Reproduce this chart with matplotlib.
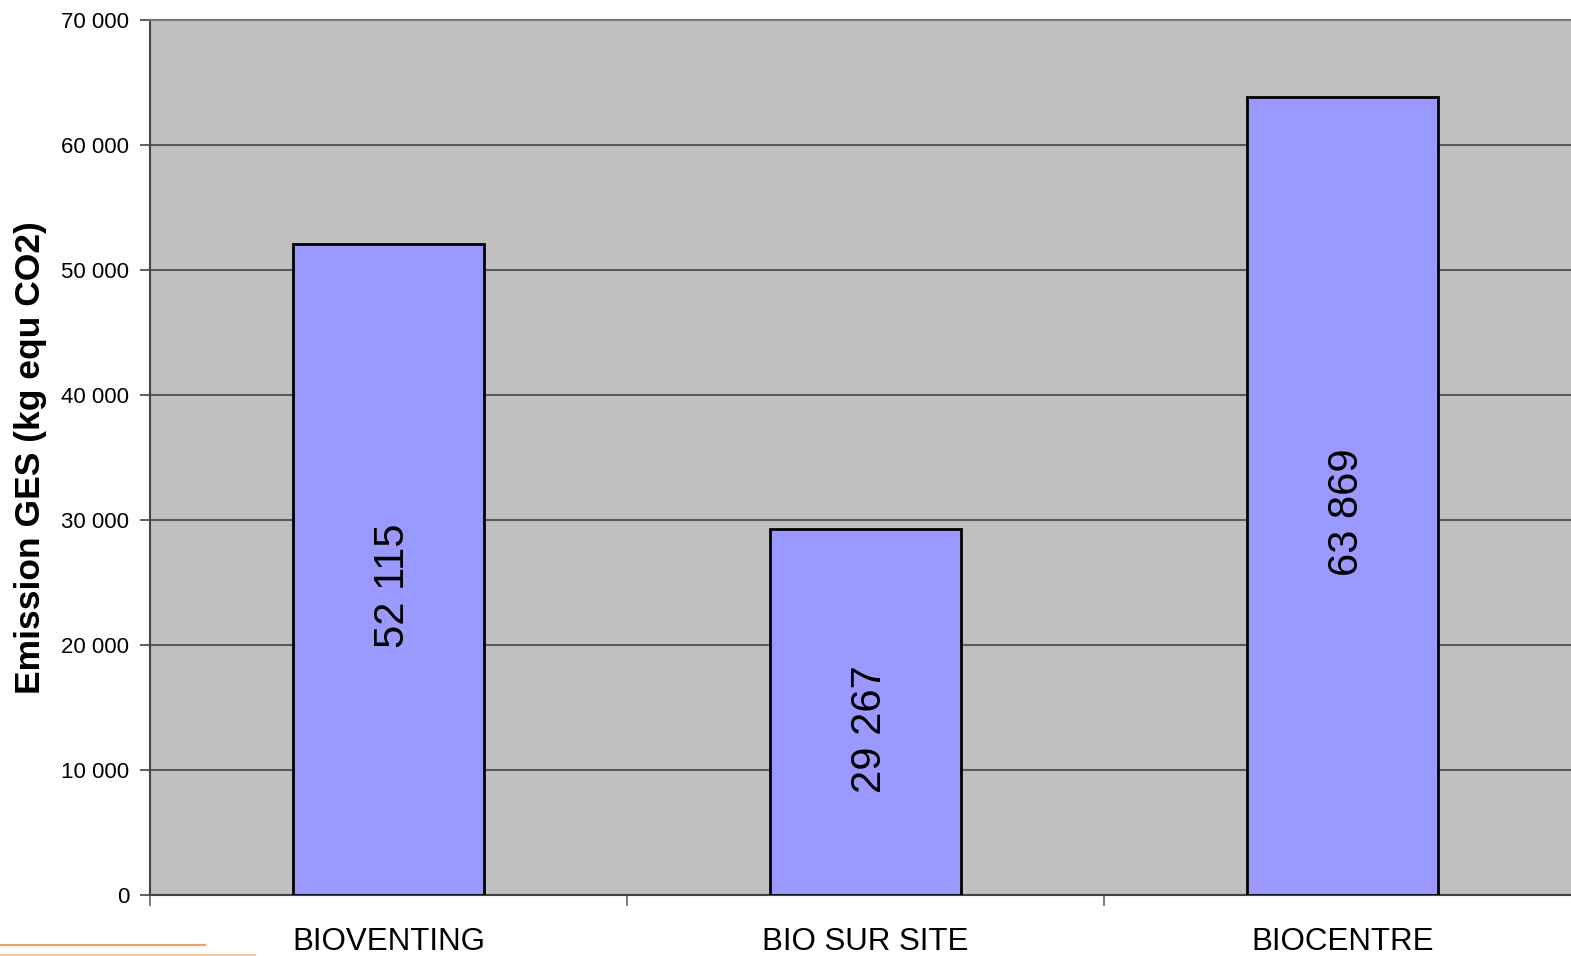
import matplotlib
matplotlib.use("Agg")
import matplotlib.pyplot as plt
from matplotlib.ticker import FuncFormatter, FixedLocator
from matplotlib.lines import Line2D

plt.rcParams['font.family'] = ['Liberation Sans', 'DejaVu Sans']

# emissions per treatment
categories = ["BIOVENTING", "BIO SUR SITE", "BIOCENTRE"]
emissions = [52115, 29267, 63869]
yticks = [0, 10000, 20000, 30000, 40000, 50000, 60000, 70000]


def fmt_space(v, pos=None):
    return f"{int(round(v)):,}".replace(",", " ")


fig = plt.figure(figsize=(15.71, 9.56), dpi=100)
ax = fig.add_axes([150 / 1571, 61 / 956, 1431 / 1571, 875 / 956])
ax.set_facecolor("#c0c0c0")

x = [i + 0.5 for i in range(len(categories))]
bars = ax.bar(x, emissions, width=0.4, color="#9999ff", edgecolor="black",
              linewidth=2, zorder=3)

for b, v in zip(bars, emissions):
    ax.annotate(fmt_space(v), (b.get_x() + b.get_width() / 2, v / 2),
                xytext=(3, -12), textcoords="offset points",
                rotation=90, ha="center", va="center", fontsize=30, zorder=4)

ax.set_xlim(0, len(categories))
ax.set_ylim(0, 70000)
ax.set_yticks(yticks)
ax.yaxis.set_major_formatter(FuncFormatter(fmt_space))
ax.grid(axis="y", color="#5a5a5a", linewidth=1.5, zorder=1)

# category separators as major ticks, names on minor ticks
ax.xaxis.set_major_locator(FixedLocator(range(len(categories) + 1)))
ax.xaxis.set_major_formatter(FuncFormatter(lambda v, p: ""))
ax.xaxis.set_minor_locator(FixedLocator(x))
ax.set_xticklabels(categories, minor=True)
ax.tick_params(axis="x", which="major", length=8, width=1.2, color="#666666")
ax.tick_params(axis="x", which="minor", length=0, pad=23, labelsize=22.5)
ax.tick_params(axis="y", length=7, width=1.2, color="#444444", labelsize=16, pad=8)

for s in ["top", "right"]:
    ax.spines[s].set_color("#7a7a7a")
    ax.spines[s].set_linewidth(1.5)
ax.spines["left"].set_color("#444444")
ax.spines["left"].set_linewidth(1.5)
ax.spines["bottom"].set_color("#444444")
ax.spines["bottom"].set_linewidth(1.5)

ax.set_ylabel("Emission GES (kg equ CO2)", fontsize=25.5, fontweight="bold", labelpad=10)

# thin orange rules in the lower left corner
fig.add_artist(Line2D([0, 205 / 1571], [1 - 945 / 956] * 2, transform=fig.transFigure,
                      color="#f0a060", linewidth=1.5))
fig.add_artist(Line2D([0, 255 / 1571], [1 - 955 / 956] * 2, transform=fig.transFigure,
                      color="#f7caa0", linewidth=1.5))

fig.savefig("out.png", dpi=100)
